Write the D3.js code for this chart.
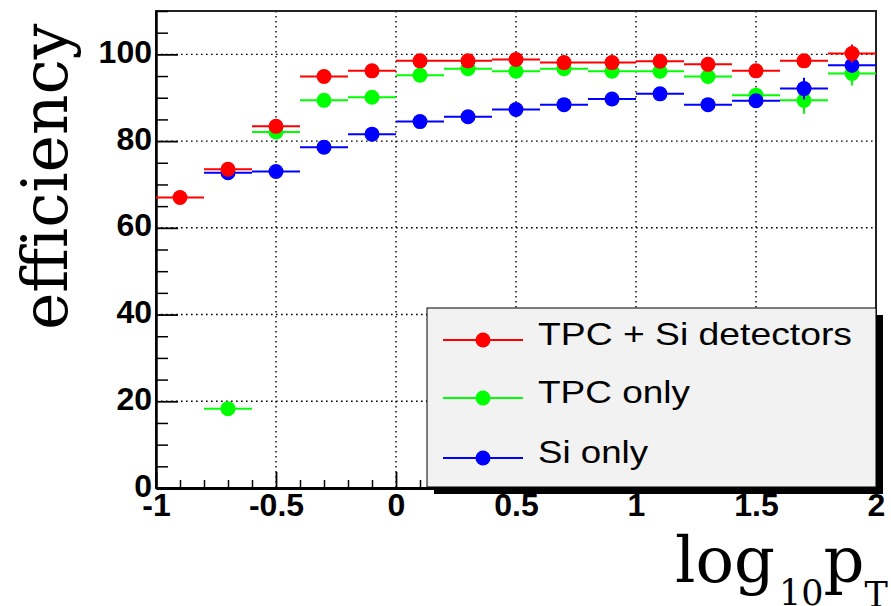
<!DOCTYPE html>
<html>
<head>
<meta charset="utf-8">
<script src="https://cdn.jsdelivr.net/npm/d3@7"></script>
<style>
  body { margin: 0; background: #fff; }
  svg { display: block; }
</style>
</head>
<body>
<svg width="891" height="606"></svg>
<script>
// bins in log10(pT), each 0.2 wide
const binCenters = [-0.9, -0.7, -0.5, -0.3, -0.1, 0.1, 0.3, 0.5, 0.7, 0.9, 1.1, 1.3, 1.5, 1.7, 1.9];
const binHalfWidth = 0.1;

const effCombined = [67.0, 73.5, 83.4, 94.9, 96.2, 98.5, 98.5, 98.8, 98.1, 98.1, 98.4, 97.7, 96.2, 98.5, 100.2];
const errCombined = [1.0, 1.0, 1.0, 0.8, 0.8, 0.6, 0.6, 0.6, 0.6, 0.6, 0.7, 0.8, 1.0, 1.2, 2.1];
const effTPC = [null, 18.3, 82.1, 89.4, 90.1, 95.2, 96.7, 96.1, 96.7, 96.1, 96.1, 94.9, 90.6, 89.4, 95.6];
const errTPC = [0, 1.0, 1.0, 1.0, 0.9, 0.8, 0.7, 0.7, 0.7, 0.8, 0.9, 1.0, 1.5, 3.1, 2.8];
const effSi = [null, 72.7, 73.0, 78.6, 81.6, 84.5, 85.6, 87.3, 88.4, 89.7, 90.9, 88.4, 89.3, 92.1, 97.5];
const errSi = [0, 1.0, 1.0, 1.0, 1.0, 1.0, 1.0, 1.0, 1.0, 1.0, 1.0, 1.2, 1.5, 2.5, 1.8];

const seriesNames = ["TPC + Si detectors", "TPC only", "Si only"];

const xTicks = [-1, -0.5, 0, 0.5, 1, 1.5, 2];
const yTicks = [0, 20, 40, 60, 80, 100];

const svg = d3.select("svg");
const margin = { top: 11, right: 15, bottom: 118, left: 156 };
const width = +svg.attr("width") - margin.left - margin.right;
const height = +svg.attr("height") - margin.top - margin.bottom;
const chart = svg.append("g").attr("transform", `translate(${margin.left},${margin.top})`);

const x = d3.scaleLinear().domain([-1, 2]).range([0, width]);
const y = d3.scaleLinear().domain([0, 110]).range([height, 0]);

// dotted grid
chart.append("g").selectAll("line")
    .data(xTicks.slice(1, -1)).enter().append("line")
    .attr("x1", d => x(d)).attr("x2", d => x(d))
    .attr("y1", 0).attr("y2", height)
    .attr("stroke", "#000").attr("stroke-width", 1.4).attr("stroke-dasharray", "1.6,3.4");
chart.append("g").selectAll("line")
    .data(yTicks.slice(1)).enter().append("line")
    .attr("x1", 0).attr("x2", width)
    .attr("y1", d => y(d)).attr("y2", d => y(d))
    .attr("stroke", "#000").attr("stroke-width", 1.4).attr("stroke-dasharray", "1.6,3.4");

// frame
chart.append("rect")
    .attr("width", width).attr("height", height)
    .attr("fill", "none").attr("stroke", "#222").attr("stroke-width", 2);

// minor ticks
const xMinor = d3.range(-10, 21).map(i => i / 10).filter(v => Math.abs(v * 2 - Math.round(v * 2)) > 1e-6);
const yMinor = d3.range(0, 111, 5).filter(v => v % 20 !== 0);

chart.append("g").attr("transform", `translate(0,${height})`)
    .call(d3.axisBottom(x).tickValues(xMinor).tickSizeInner(-8).tickSizeOuter(0).tickFormat(""))
    .call(g => g.select(".domain").remove())
    .selectAll("line").attr("stroke-width", 1.5);
chart.append("g")
    .call(d3.axisLeft(y).tickValues(yMinor).tickSizeInner(-12).tickSizeOuter(0).tickFormat(""))
    .call(g => g.select(".domain").remove())
    .selectAll("line").attr("stroke-width", 1.5);

// major axes
const xAxis = chart.append("g").attr("transform", `translate(0,${height})`)
    .call(d3.axisBottom(x).tickValues(xTicks).tickSizeInner(-16).tickSizeOuter(0).tickPadding(5).tickFormat(d => String(d)));
const yAxis = chart.append("g")
    .call(d3.axisLeft(y).tickValues(yTicks).tickSizeInner(-22).tickSizeOuter(0).tickPadding(4).tickFormat(d => String(d)));

[xAxis, yAxis].forEach(ax => {
    ax.selectAll("line").attr("stroke-width", 1.8);
    ax.selectAll("text")
        .attr("font-family", "'Liberation Sans', Arial, sans-serif")
        .attr("font-weight", "bold")
        .attr("font-size", 32)
        .attr("fill", "#000");
});
yAxis.selectAll("text").attr("dy", "0.25em");
xAxis.select(".domain").attr("stroke-width", 3);
yAxis.select(".domain").attr("stroke-width", 2.5);

// data series
const series = [
    { name: seriesNames[1], vals: effTPC, errs: errTPC, color: "#00ff00" },
    { name: seriesNames[2], vals: effSi, errs: errSi, color: "#0000ff" },
    { name: seriesNames[0], vals: effCombined, errs: errCombined, color: "#ff0000" }
];

series.forEach(s => {
    const pts = binCenters.map((c, i) => ({ c, v: s.vals[i], e: s.errs[i] })).filter(p => p.v !== null);
    const g = chart.append("g");
    g.selectAll(".hbar").data(pts).enter().append("line")
        .attr("x1", d => x(d.c - binHalfWidth)).attr("x2", d => x(d.c + binHalfWidth))
        .attr("y1", d => y(d.v)).attr("y2", d => y(d.v))
        .attr("stroke", s.color).attr("stroke-width", 2);
    g.selectAll(".vbar").data(pts).enter().append("line")
        .attr("x1", d => x(d.c)).attr("x2", d => x(d.c))
        .attr("y1", d => y(d.v - d.e)).attr("y2", d => y(d.v + d.e))
        .attr("stroke", s.color).attr("stroke-width", 2);
    g.selectAll("circle").data(pts).enter().append("circle")
        .attr("cx", d => x(d.c)).attr("cy", d => y(d.v))
        .attr("r", 7.5).attr("fill", s.color);
});

// legend
const legX = 427, legY = 308, legW = 449, legH = 179;
svg.append("rect").attr("x", legX + 7).attr("y", legY + 7).attr("width", legW).attr("height", legH).attr("fill", "#000");
svg.append("rect").attr("x", legX).attr("y", legY).attr("width", legW).attr("height", legH)
    .attr("fill", "#f2f2f2").attr("stroke", "#000").attr("stroke-width", 1);

const legColors = ["#ff0000", "#00ff00", "#0000ff"];
const legRows = [340, 398, 458];
const legWidths = [314, 152, 110];
seriesNames.forEach((name, i) => {
    const ly = legRows[i];
    svg.append("line").attr("x1", 443).attr("x2", 523).attr("y1", ly).attr("y2", ly)
        .attr("stroke", legColors[i]).attr("stroke-width", 2);
    svg.append("circle").attr("cx", 483).attr("cy", ly).attr("r", 7.5).attr("fill", legColors[i]);
    svg.append("text").attr("x", 538).attr("y", ly + 5)
        .attr("font-family", "'Liberation Sans', Arial, sans-serif")
        .attr("font-size", 32)
        .attr("textLength", legWidths[i]).attr("lengthAdjust", "spacingAndGlyphs")
        .text(name);
});

// axis titles
svg.append("text")
    .attr("transform", "translate(67,330) rotate(-90)")
    .attr("font-family", "'DejaVu Serif', serif")
    .attr("font-size", 63)
    .text("efficiency");

const xt = svg.append("text")
    .attr("x", 675).attr("y", 582)
    .attr("font-family", "'DejaVu Serif', serif")
    .attr("font-size", 64);
xt.append("tspan").text("log");
xt.append("tspan").attr("font-size", 35).attr("dx", 4).attr("dy", 23).text("10");
xt.append("tspan").attr("dy", -23).text("p");
xt.append("tspan").attr("font-size", 35).attr("dy", 25).text("T");
</script>
</body>
</html>
